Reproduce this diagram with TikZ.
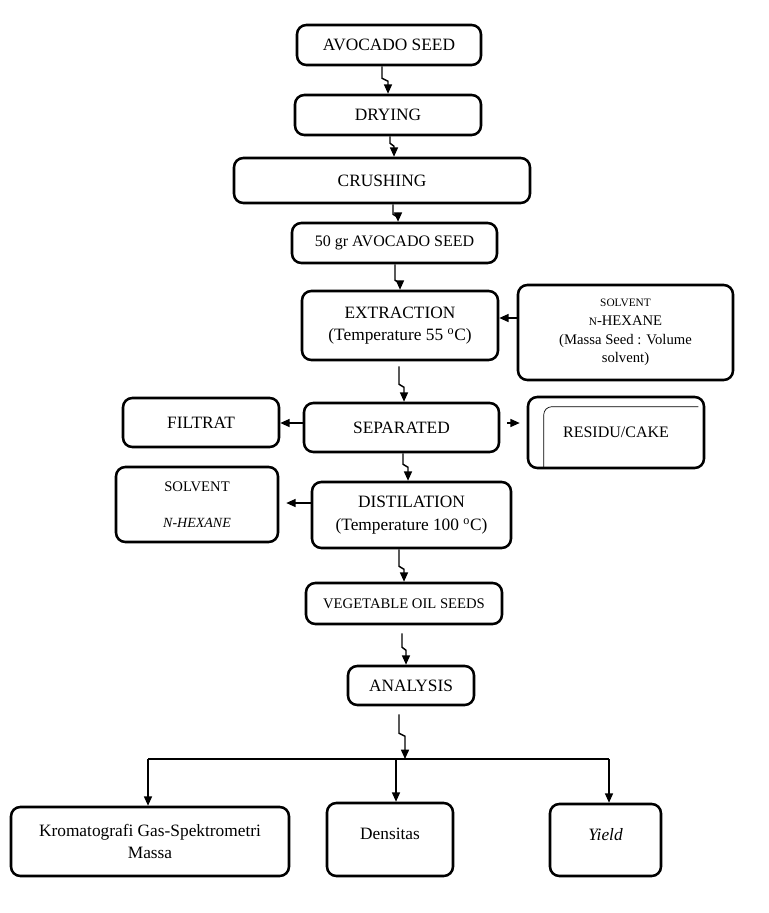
\documentclass[tikz,border=0pt]{standalone}
\usepackage{fontspec}
\setmainfont{Liberation Serif}
\usetikzlibrary{arrows.meta,calc}
\begin{document}
\begin{tikzpicture}[x=0.75pt,y=-0.75pt,
  box/.style={draw, line width=1.9pt, rounded corners=7pt, inner sep=0pt, align=center, font=\fontsize{13}{17}\selectfont},
  boxsize/.style 2 args={minimum width=#1*0.75pt, minimum height=#2*0.75pt},
  arr/.style={line width=1.1pt, -{Triangle[length=7pt,width=6pt]}},
  link/.style={line width=1.1pt}]
\useasboundingbox (0,0) rectangle (768,913);

\node[box, boxsize={184}{40}] (avo) at (389,45) {AVOCADO SEED};
\node[box, boxsize={186}{40}] (dry) at (388,115) {DRYING};
\node[box, boxsize={296}{45}] (crush) at (382,180.5) {CRUSHING};
\node[box, boxsize={205}{40}, font=\fontsize{12}{14}\selectfont] (fifty) at (394.5,243) {50 gr AVOCADO SEED};
\node[box, boxsize={196}{69}] (extr) at (400,325.5) {EXTRACTION\\(Temperature 55 \textsuperscript{o}C)};
\node[box, boxsize={215}{95}, font=\fontsize{11}{14}\selectfont] (solvR) at (625.5,332.5)
  {{\fontsize{8.5}{14}\selectfont SOLVENT}\\{\fontsize{8.5}{14}\selectfont N}-HEXANE\\(Massa Seed : Volume\\solvent)};
\node[box, boxsize={156}{49}] (filt) at (201,422.5) {FILTRAT};
\node[box, boxsize={195}{49}] (sep) at (401.5,427.5) {SEPARATED};
\node[box, boxsize={176}{71}, font=\fontsize{12}{14}\selectfont] (res) at (616,432.5) {RESIDU/CAKE};
\node[box, boxsize={162}{75}, font=\fontsize{11}{15}\selectfont] (solvL) at (197,504.5)
  {SOLVENT\\[12pt]{\fontsize{10.5}{15}\selectfont\itshape N-HEXANE}};
\node[box, boxsize={199}{66}] (dist) at (411.5,515) {DISTILATION\\(Temperature 100 \textsuperscript{o}C)};
\node[box, boxsize={196}{41}, font=\fontsize{11}{13}\selectfont] (veg) at (404,603.5) {VEGETABLE OIL SEEDS};
\node[box, boxsize={126}{39}] (ana) at (411,685.5) {ANALYSIS};
\node[box, boxsize={278}{69}] (krom) at (150,841.5) {Kromatografi Gas-Spektrometri\\Massa};
\node[box, boxsize={126}{73}, text depth=9pt] (dens) at (390,839.5) {Densitas};
\node[box, boxsize={111}{72}, text depth=9pt] (yield) at (605.5,840) {\itshape Yield};

% residu inner line
\draw[line width=0.5pt, rounded corners=6pt] ($(res.south west)+(17,-2)$) |- ($(res.north east)+(-7,11)$);

% zigzag arrows
\draw[arr] ($(avo.south)+(-7,0)$) -- ++(0,12) -- ++(6,3) -- (dry.north);
\draw[arr] ($(dry.south)+(2,0)$) -- ++(0,7) -- ++(4,3) -- ($(crush.north)+(12,0)$);
\draw[arr] ($(crush.south)+(11,0)$) -- ++(0,10) -- ++(5,3) -- ($(fifty.north)+(3.5,0)$);
\draw[arr] ($(fifty.south)+(0.5,0)$) -- ++(0,16) -- ++(5,3) -- (extr.north);
\draw[arr] ($(extr.south)+(-1,5)$) -- ++(0,18) -- ++(5,3) -- ($(sep.north)+(2.5,0)$);
\draw[arr] ($(sep.south)+(1.5,0)$) -- ++(0,11) -- ++(5,3) -- ($(dist.north)+(-3.5,0)$);
\draw[arr] ($(dist.south)+(-12.5,0)$) -- ++(0,17) -- ++(5,3) -- (veg.north);
\draw[arr] ($(veg.south)+(-2,8)$) -- ++(0,14) -- ++(4,3) -- ($(ana.north)+(-5,0)$);
\coordinate (br) at (405,759);
\draw[arr] ($(ana.south)+(-12,8)$) -- ++(0,19) -- ++(6,3) -- (br);

% side arrows
\draw[arr] ($(solvR.west)+(0,-14.5)$) -- ($(extr.east)+(0,-7.5)$);
\draw[arr] ($(sep.west)+(0,-4.5)$) -- ($(filt.east)+(0,0.5)$);
\draw[arr] ($(sep.east)+(7,-4.5)$) -- ($(res.west)+(-7,-9.5)$);
\draw[arr] ($(dist.west)+(0,-12)$) -- ($(solvL.east)+(7,-1.5)$);

% branch
\coordinate (kL) at ($(krom.north)+(-2,0)$);
\coordinate (dM) at ($(dens.north)+(6,0)$);
\coordinate (yR) at ($(yield.north)+(3.5,0)$);
\draw[link] (kL |- br) -- (yR |- br);
\draw[arr] (kL |- br) -- (kL);
\draw[arr] (dM |- br) -- (dM);
\draw[arr] (yR |- br) -- (yR);
\end{tikzpicture}
\end{document}
